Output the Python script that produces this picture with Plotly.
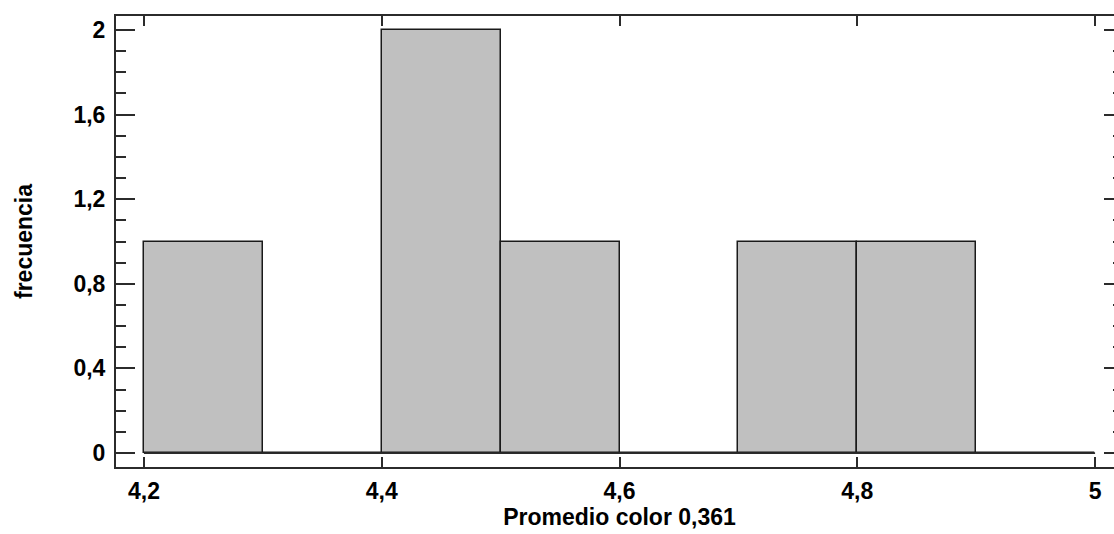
import plotly.graph_objects as go

# Histogram bins (left edges, width 0.1) and counts
bin_edges = [4.2, 4.3, 4.4, 4.5, 4.6, 4.7, 4.8, 4.9, 5.0]
counts = [1, 0, 2, 1, 0, 1, 1, 0]

x_tickvals = [4.2, 4.4, 4.6, 4.8, 5.0]
x_ticktext = ["4,2", "4,4", "4,6", "4,8", "5"]
y_tickvals = [0, 0.4, 0.8, 1.2, 1.6, 2.0]
y_ticktext = ["0", "0,4", "0,8", "1,2", "1,6", "2"]

x_title = "Promedio color 0,361"
y_title = "frecuencia"

centers = [(a + b) / 2 for a, b in zip(bin_edges[:-1], bin_edges[1:])]
widths = [b - a for a, b in zip(bin_edges[:-1], bin_edges[1:])]

FONT = "Liberation Sans, Arial, sans-serif"
FSIZE = 23
AXIS_COLOR = "#2b2b2b"

fig = go.Figure()
fig.add_trace(go.Bar(
    x=centers,
    y=counts,
    width=widths,
    marker=dict(color="#c0c0c0", line=dict(color="#1a1a1a", width=1.5)),
    hoverinfo="x+y",
))

# baseline spanning the full bin range
fig.add_shape(type="line", xref="x", yref="y",
              x0=bin_edges[0], x1=bin_edges[-1], y0=0, y1=0,
              line=dict(color=AXIS_COLOR, width=1.8), layer="above")

fig.update_layout(
    width=1126,
    height=534,
    margin=dict(l=116, r=1, t=16, b=67),
    paper_bgcolor="white",
    plot_bgcolor="white",
    font=dict(family=FONT, size=FSIZE, color="black", weight="bold"),
    showlegend=False,
    bargap=0,
)

fig.update_xaxes(
    range=[4.1765, 5.0235],
    tickvals=x_tickvals,
    ticktext=x_ticktext,
    ticks="inside",
    ticklen=10,
    tickwidth=1.5,
    tickcolor=AXIS_COLOR,
    showline=True,
    linecolor=AXIS_COLOR,
    linewidth=2,
    mirror="ticks",
    showgrid=False,
    zeroline=False,
    ticklabelstandoff=2,
    title=dict(text=x_title, font=dict(family=FONT, size=FSIZE, weight="bold"), standoff=6),
    tickfont=dict(family=FONT, size=FSIZE, weight="bold"),
)

fig.update_yaxes(
    range=[-0.066, 2.066],
    tickvals=y_tickvals,
    ticktext=y_ticktext,
    ticks="inside",
    ticklen=19,
    tickwidth=1.5,
    tickcolor=AXIS_COLOR,
    minor=dict(dtick=0.1, tick0=0, ticks="inside", ticklen=10, tickwidth=1.5,
               tickcolor=AXIS_COLOR, showgrid=False),
    showline=True,
    linecolor=AXIS_COLOR,
    linewidth=2,
    mirror="ticks",
    showgrid=False,
    zeroline=False,
    ticklabelstandoff=4,
    title=dict(text=y_title, font=dict(family=FONT, size=FSIZE, weight="bold"), standoff=34),
    tickfont=dict(family=FONT, size=FSIZE, weight="bold"),
)

fig.write_html("out.html", post_script="document.body.style.overflow='hidden';")
